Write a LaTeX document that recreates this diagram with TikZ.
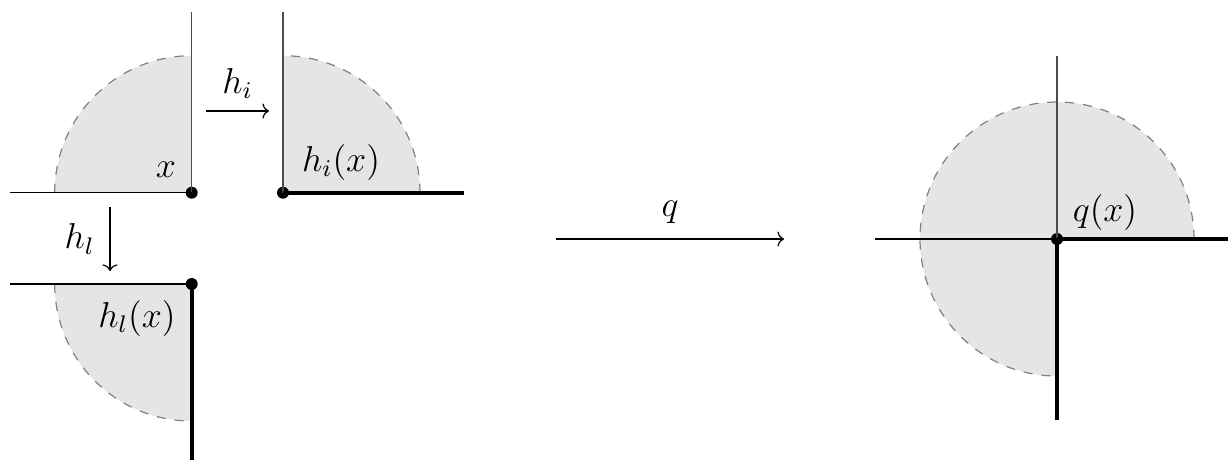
\documentclass[tikz,border=0pt]{standalone}
\usetikzlibrary{arrows.meta}
\begin{document}
\begin{tikzpicture}[x=0.3333pt,y=0.3333pt,
  thinv/.style={line width=0.45pt, black!70},
  thinh/.style={line width=0.45pt, black},
  thickax/.style={line width=1.3pt, black},
  region/.style={fill=gray!20},
  bound/.style={dashed, black!50, line width=0.4pt},
  dot/.style={circle, fill=black, inner sep=0pt, minimum size=4pt},
  map/.style={-{To[length=2.2pt,width=5pt]}, line width=0.4pt},
  lbl/.style={inner sep=0pt, font=\large}]
\useasboundingbox (0,0) rectangle (1228,461);
\def\R{137}
% ---- panel A: x
\coordinate (A) at (191.7,268.3);
\fill[region] (A) -- ++(-\R,0) arc (180:90:\R) -- cycle;
\draw[bound] (A) ++(-\R,0) arc (180:90:\R);
\coordinate (Atop) at (191.7,449);
\coordinate (Aleft) at (10,268.3);
\node[dot] (a) at (A) {};
\draw[thinv] (a.center) -- (Atop);
\draw[thinh] (Aleft) -- (a.center);
\node[lbl] (lx) at (166,291) {$x$};
% ---- panel B: h_i(x)
\coordinate (B) at (283,268.3);
\fill[region] (B) -- ++(\R,0) arc (0:90:\R) -- cycle;
\draw[bound] (B) ++(\R,0) arc (0:90:\R);
\coordinate (Btop) at (283,449);
\coordinate (Bright) at (464,268.3);
\node[dot] (b) at (B) {};
\draw[thinv] (b.center) -- (Btop);
\draw[thickax] (b.center) -- (Bright);
\node[lbl] (lhi) at (341,299) {$h_i(x)$};
% ---- panel C: h_l(x)
\coordinate (C) at (191.7,177);
\fill[region] (C) -- ++(-\R,0) arc (180:270:\R) -- cycle;
\draw[bound] (C) ++(-\R,0) arc (180:270:\R);
\coordinate (Cleft) at (10,177);
\coordinate (Cbot) at (191.7,1);
\node[dot] (c) at (C) {};
\draw[thinh] (Cleft) -- (c.center);
\draw[thickax] (c.center) -- (Cbot);
\node[lbl] (lhl) at (137,143) {$h_l(x)$};
% ---- panel D: q(x)
\coordinate (D) at (1057,222);
\fill[region] (D) -- ++(\R,0) arc (0:270:\R) -- cycle;
\draw[bound] (D) ++(\R,0) arc (0:270:\R);
\coordinate (Dtop) at (1057,405);
\coordinate (Dleft) at (875,222);
\coordinate (Dright) at (1228,222);
\coordinate (Dbot) at (1057,41);
\node[dot] (d) at (D) {};
\draw[thinv] (d.center) -- (Dtop);
\draw[thinh] (Dleft) -- (d.center);
\draw[thickax] (d.center) -- (Dright);
\draw[thickax] (d.center) -- (Dbot);
\node[lbl] (lq) at (1105,249) {$q(x)$};
% ---- maps
\coordinate (hi1) at (206,350);
\coordinate (hi2) at (269,350);
\draw[map] (hi1) -- node[above=4pt, lbl] (lhi2) {$h_i$} (hi2);
\coordinate (hl1) at (110,254);
\coordinate (hl2) at (110,190);
\draw[map] (hl1) -- node[left=5pt, lbl] (lhl2) {$h_l$} (hl2);
\coordinate (q1) at (556,222);
\coordinate (q2) at (784,222);
\draw[map] (q1) -- node[above=5pt, lbl] (lq2) {$q$} (q2);
\end{tikzpicture}
\end{document}
